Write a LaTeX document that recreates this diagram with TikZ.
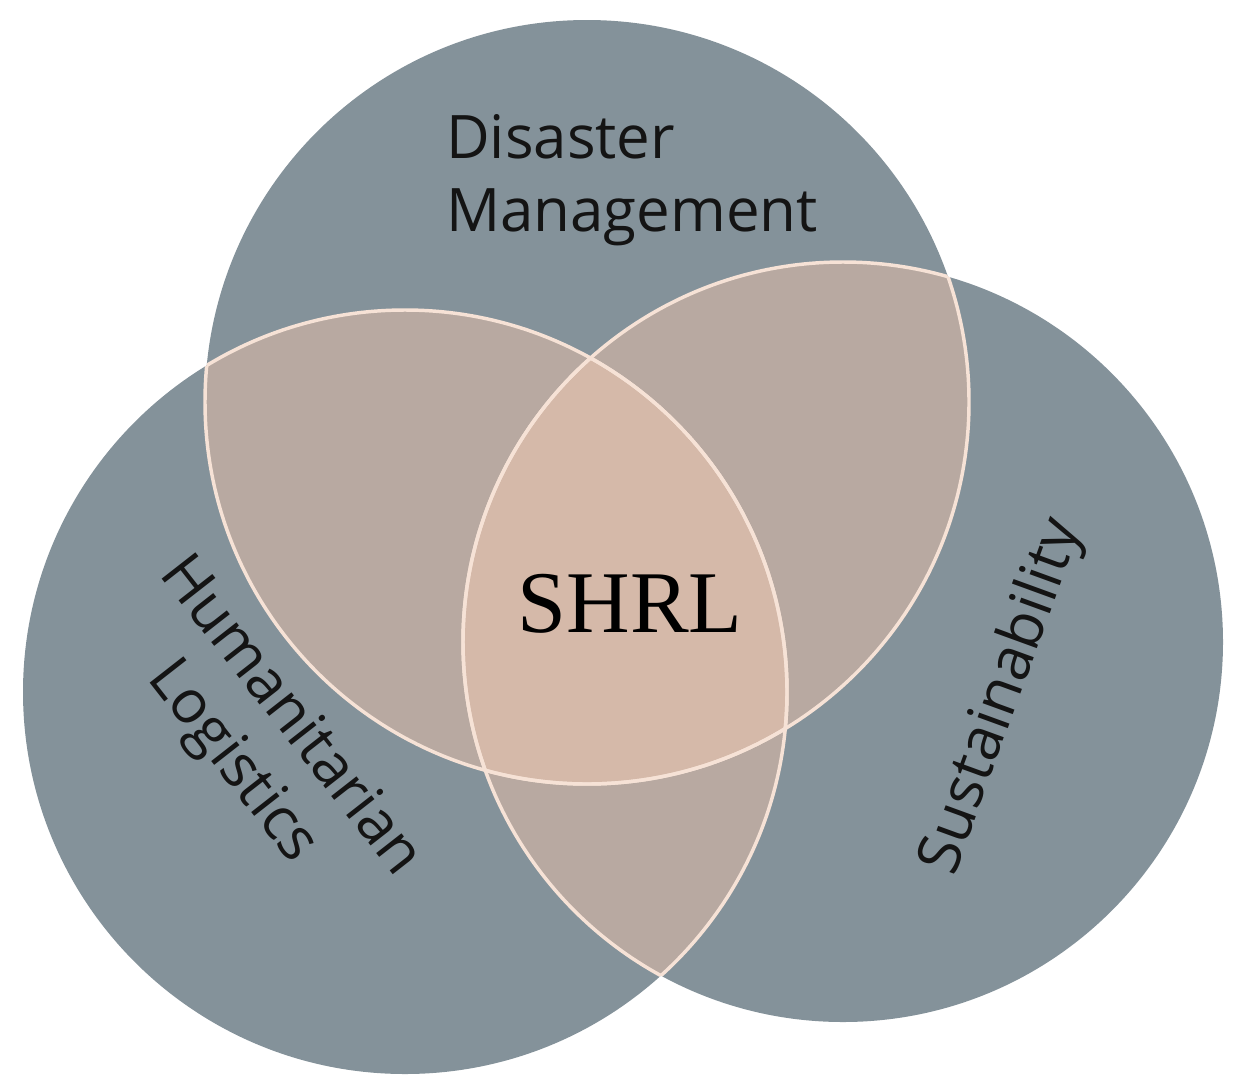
\documentclass[tikz,border=0pt]{standalone}
\usepackage{fontspec}
\setsansfont{Open Sans}
\setmainfont{Liberation Serif}
\definecolor{cg}{HTML}{84929A}
\definecolor{cl}{HTML}{B8A9A1}
\definecolor{cc}{HTML}{D5B9A9}
\definecolor{cb}{HTML}{F6E2D6}
\begin{document}
\begin{tikzpicture}[x=0.75pt,y=-0.75pt,
  lbl/.style={font=\sffamily\fontsize{45}{55}\selectfont,text=black!92,align=left}]
\useasboundingbox (0,0) rectangle (1252,1086);
\def\A{(587,402) circle[radius=382]}
\def\B{(405,692) circle[radius=382]}
\def\C{(843,642) circle[radius=380]}
\fill[cg] \A; \fill[cg] \B; \fill[cg] \C;
\begin{scope}\clip \A; \fill[cl] \B; \end{scope}
\begin{scope}\clip \A; \fill[cl] \C; \end{scope}
\begin{scope}\clip \B; \fill[cl] \C; \end{scope}
\begin{scope}\clip \A; \clip \B; \fill[cc] \C; \end{scope}
\begin{scope}[cb,line width=2.6pt]
\begin{scope}\clip \B; \draw \A; \draw \C; \end{scope}
\begin{scope}\clip \A; \draw \B; \draw \C; \end{scope}
\begin{scope}\clip \C; \draw \A; \draw \B; \end{scope}
\end{scope}
\node[lbl] (dm) at (632,180) {Disaster\\Management};
\node[lbl,rotate=-52,align=center] (hl) at (260,740) {Humanitarian\\Logistics};
\node[lbl,rotate=70] (su) at (1003,697) {Sustainability};
\node[font=\fontsize{66}{70}\selectfont] (sh) at (630,604) {SHRL};
\end{tikzpicture}
\end{document}
